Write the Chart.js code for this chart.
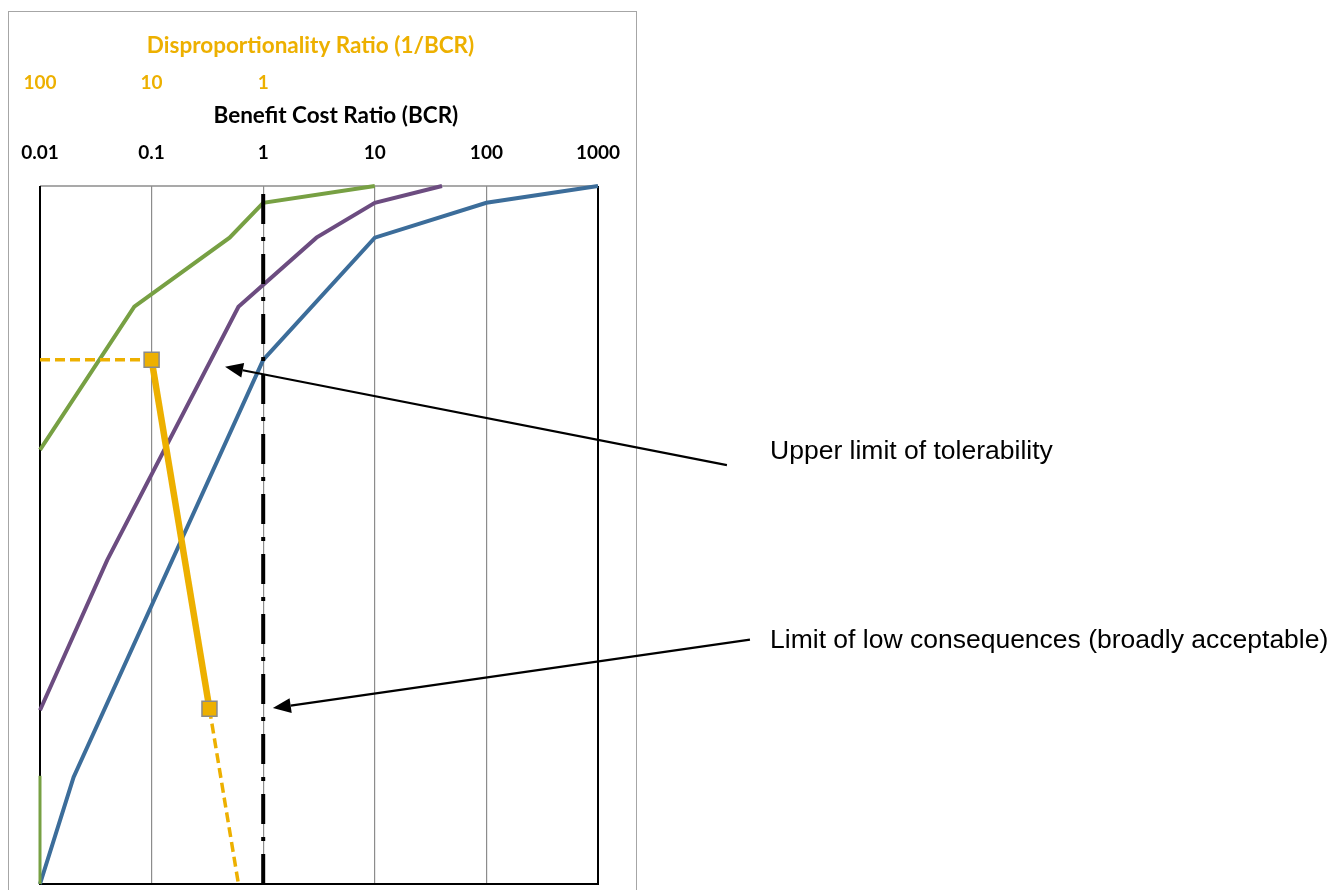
<!DOCTYPE html>
<html>
<head>
<meta charset="utf-8">
<script src="https://cdn.jsdelivr.net/npm/chart.js@4.4.1/dist/chart.umd.min.js"></script>
<style>
  html, body { margin: 0; padding: 0; background: #fff; overflow: hidden; }
  #frame { position: absolute; left: 8px; top: 11px; width: 627px; height: 920px; border: 1px solid #a6a6a6; }
  #wrap { position: absolute; left: 0; top: 0; width: 1343px; height: 890px; }
</style>
</head>
<body>
<div id="frame"></div>
<div id="wrap"><canvas id="c" width="1343" height="890"></canvas></div>
<script>
// ---- data ----
const bcrTicks = [0.01, 0.1, 1, 10, 100, 1000];
const drTicks = [100, 10, 1];
const blueX = [0.01, 0.02, 1, 10, 100, 1000];
const blueY = [0, 15.3, 75.1, 92.6, 97.6, 100];
const purpleX = [0.01, 0.04, 0.6, 3, 10, 40];
const purpleY = [24.9, 46.4, 82.7, 92.6, 97.6, 100];
const greenX = [0.01, 0.07, 0.5, 1, 10];
const greenY = [62.2, 82.7, 92.6, 97.6, 100];
const greenStubX = [0.01, 0.01];
const greenStubY = [0, 15.5];
const goldX = [0.01, 0.1, 0.33, 0.6];
const goldY = [75.1, 75.1, 25.1, 0];
const limitX = [1, 1];
const limitY = [0, 100];
const noteText = ['Upper limit of tolerability', 'Limit of low consequences (broadly acceptable)'];
const arrowTipX = [0.455, 1.22];
const arrowTipY = [74.1, 25.2];
const arrowTailX = [14300, 23000];
const arrowTailY = [60.0, 35.0];
const noteX = [34800, 34800];
const noteY = [62.0, 34.8];

const pts = (xs, ys) => xs.map((x, i) => ({x: x, y: ys[i]}));

const GOLD = '#EDB000';
const tickFont = {family: 'Lato', weight: 'bold', size: 19};
const titleFont = {family: 'Lato', weight: 'bold', size: 22.5};
// titles are not centred exactly over the plot in the original: pad with spaces
const bcrTitle = '\u2003\u2003Benefit Cost Ratio (BCR)';
const drTitle = 'Disproportionality Ratio (1/BCR)\u2003';

const framePlugin = {
  id: 'frame',
  beforeDatasetsDraw(chart) {
    const {ctx, chartArea: a} = chart;
    ctx.save();
    ctx.lineCap = 'butt';
    ctx.strokeStyle = '#8c8c8c';
    ctx.lineWidth = 1.5;
    ctx.beginPath(); ctx.moveTo(a.left, a.top); ctx.lineTo(a.right, a.top); ctx.stroke();
    ctx.strokeStyle = '#000';
    ctx.lineWidth = 2;
    ctx.beginPath();
    ctx.moveTo(a.left, a.top); ctx.lineTo(a.left, a.bottom); ctx.lineTo(a.right, a.bottom); ctx.lineTo(a.right, a.top);
    ctx.stroke();
    ctx.restore();
  },
  afterDraw(chart) {
    const {ctx} = chart;
    const xs = chart.scales.x, ys = chart.scales.y;
    ctx.save();
    for (let i = 0; i < noteText.length; i++) {
      const tx = xs.getPixelForValue(arrowTailX[i]), ty = ys.getPixelForValue(arrowTailY[i]);
      const hx = xs.getPixelForValue(arrowTipX[i]), hy = ys.getPixelForValue(arrowTipY[i]);
      const ang = Math.atan2(hy - ty, hx - tx);
      const L = 18, W = 7.5;
      const bx = hx - L * Math.cos(ang), by = hy - L * Math.sin(ang);
      ctx.strokeStyle = '#000'; ctx.fillStyle = '#000'; ctx.lineWidth = 2.2;
      ctx.beginPath(); ctx.moveTo(tx, ty); ctx.lineTo(bx, by); ctx.stroke();
      ctx.beginPath();
      ctx.moveTo(hx, hy);
      ctx.lineTo(bx + W * Math.sin(ang), by - W * Math.cos(ang));
      ctx.lineTo(bx - W * Math.sin(ang), by + W * Math.cos(ang));
      ctx.closePath(); ctx.fill();
      ctx.font = '26.5px "Liberation Sans", Arial, sans-serif';
      ctx.textAlign = 'left'; ctx.textBaseline = 'middle';
      ctx.fillText(noteText[i], xs.getPixelForValue(noteX[i]), ys.getPixelForValue(noteY[i]));
    }
    ctx.restore();
  }
};

new Chart(document.getElementById('c'), {
  type: 'line',
  data: {
    datasets: [
      {
        label: 'Disproportionality', data: pts(goldX, goldY), borderColor: GOLD, backgroundColor: GOLD,
        pointStyle: 'rect', pointRadius: [0, 10.6, 10.6, 0], pointBorderColor: '#8a8a8a', pointBorderWidth: 1.5,
        pointBackgroundColor: GOLD, borderWidth: 3.5,
        segment: {
          borderWidth: c => c.p0DataIndex === 1 ? 6.5 : 3.5,
          borderDash: c => c.p0DataIndex === 1 ? [] : [10, 5]
        },
        order: 0, clip: false
      },
      {
        label: 'Limit', data: pts(limitX, limitY), borderColor: '#000', borderWidth: 4,
        borderDash: [30, 13, 4, 13], borderCapStyle: 'butt', pointRadius: 0, order: 1, clip: false
      },
      { label: 'Green', data: pts(greenX, greenY), borderColor: '#77A043', borderWidth: 4, pointRadius: 0, order: 2, clip: false },
      { label: 'Green stub', data: pts(greenStubX, greenStubY), borderColor: '#77A043', borderWidth: 3, pointRadius: 0, order: 2, clip: false },
      { label: 'Purple', data: pts(purpleX, purpleY), borderColor: '#6C4C80', borderWidth: 4, pointRadius: 0, order: 3, clip: false },
      { label: 'Blue', data: pts(blueX, blueY), borderColor: '#3C6D9A', borderWidth: 4, pointRadius: 0, order: 4, clip: false }
    ]
  },
  options: {
    responsive: false,
    animation: false,
    events: [],
    layout: { padding: { left: 40, right: 745, bottom: 6, top: 32.5 } },
    plugins: { legend: { display: false }, tooltip: { enabled: false } },
    elements: { line: { tension: 0 } },
    scales: {
      x: {
        type: 'logarithmic', position: 'top', min: 0.01, max: 1000, weight: 0,
        afterBuildTicks: ax => { ax.ticks = bcrTicks.map(v => ({value: v})); },
        ticks: { color: '#000', font: tickFont, padding: 0, maxRotation: 0, autoSkip: false,
                 callback: v => String(v) },
        grid: { color: '#8c8c8c', lineWidth: 1.2, drawTicks: true, tickLength: 21.6, tickColor: 'rgba(0,0,0,0)' },
        border: { display: false },
        title: { display: true, text: bcrTitle, color: '#000', font: titleFont,
                 padding: { top: 4, bottom: 12.1 } }
      },
      x2: {
        type: 'logarithmic', position: 'top', min: 0.001, max: 100, reverse: true, weight: 1,
        afterBuildTicks: ax => { ax.ticks = drTicks.map(v => ({value: v})); },
        ticks: { color: GOLD, font: tickFont, padding: 0, maxRotation: 0, autoSkip: false,
                 callback: v => String(v) },
        grid: { display: true, drawOnChartArea: false, drawTicks: true, tickLength: 4.1, tickColor: 'rgba(0,0,0,0)' },
        border: { display: false },
        title: { display: true, text: drTitle, color: GOLD, font: titleFont,
                 padding: { top: 0, bottom: 12.1 } }
      },
      y: { type: 'linear', min: 0, max: 100, display: false }
    }
  },
  plugins: [framePlugin]
});
</script>
</body>
</html>
